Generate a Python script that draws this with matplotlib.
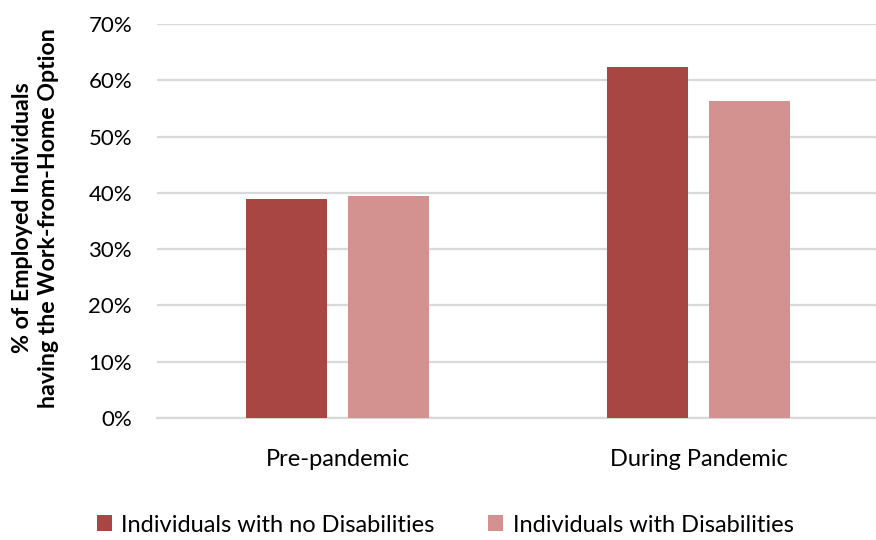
import numpy as np
import matplotlib
matplotlib.use("Agg")
import matplotlib.pyplot as plt
from matplotlib.ticker import PercentFormatter

plt.rcParams['font.family'] = ['Lato', 'DejaVu Sans']

periods = ['Pre-pandemic', 'During Pandemic']
no_disability = [38.9, 62.3]
with_disability = [39.5, 56.3]
series_names = ['Individuals with no Disabilities', 'Individuals with Disabilities']
colors = ['#A84644', '#D39190']

fig = plt.figure(figsize=(8.76, 5.4), dpi=100)
ax = fig.add_axes([157 / 876, 122 / 540, 722 / 876, 394 / 540])

x = np.arange(len(periods))
w = 0.224
off = 0.141
ax.bar(x - off, no_disability, w, color=colors[0], label=series_names[0], zorder=3)
ax.bar(x + off, with_disability, w, color=colors[1], label=series_names[1], zorder=3)

ax.set_xlim(-0.5, 1.5)
ax.set_ylim(0, 70)
ax.set_yticks(np.arange(0, 71, 10))
ax.yaxis.set_major_formatter(PercentFormatter(decimals=0))
ax.set_xticks(x)
ax.set_xticklabels(periods)
ax.tick_params(axis='both', length=0, colors='#000000')
ax.tick_params(axis='y', pad=18, labelsize=16)
ax.tick_params(axis='x', pad=22, labelsize=17)
ax.grid(axis='y', color='#d9d9d9', linewidth=1.6, zorder=0)
for s in ['top', 'right', 'left']:
    ax.spines[s].set_visible(False)
ax.spines['bottom'].set_color('#d9d9d9')
ax.spines['bottom'].set_linewidth(1.6)

fig.text(0.0405, (540 - 218) / 540, '% of Employed Individuals\nhaving the Work-from-Home Option',
         rotation=90, ha='center', va='center', fontsize=16.7, fontweight='bold',
         multialignment='center', linespacing=1.35)

fig.legend(loc='center', bbox_to_anchor=(0.508, (540 - 525) / 540), ncol=2, frameon=False,
           fontsize=17, handlelength=0.65, handleheight=0.65, handletextpad=0.4,
           columnspacing=2.25)

fig.savefig('out.png', dpi=100)
